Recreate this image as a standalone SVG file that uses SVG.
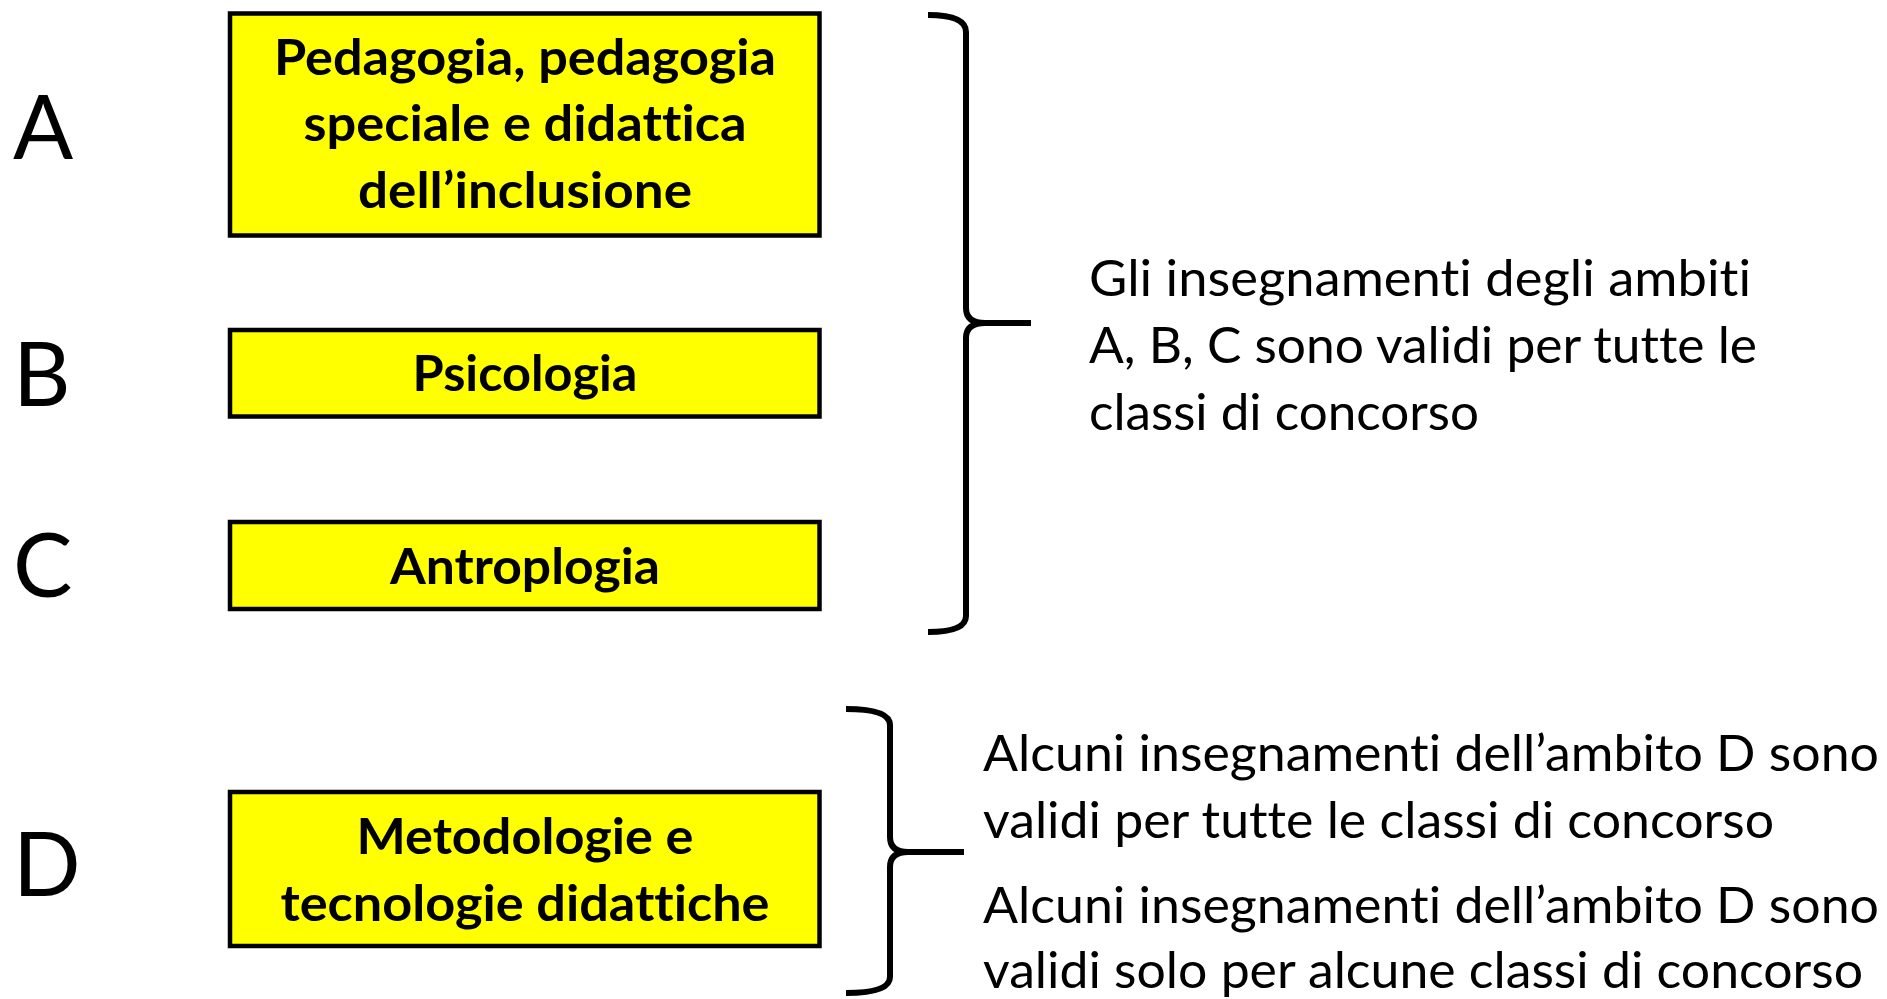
<svg xmlns="http://www.w3.org/2000/svg" width="1887" height="999" viewBox="0 0 1887 999">
<style>
text{font-variant-ligatures:none;font-feature-settings:"liga" 0,"clig" 0,"dlig" 0}
.lbl{font-family:Lato,"Liberation Sans",sans-serif;font-size:89px;fill:#000}
.box{fill:#FFFF00;stroke:#000;stroke-width:4.5}
.bt{font-family:Lato,"Liberation Sans",sans-serif;font-weight:700;font-size:49px;fill:#000;text-anchor:middle}
.rt{font-family:Lato,"Liberation Sans",sans-serif;font-size:50px;fill:#000}
.brace{fill:none;stroke:#000;stroke-width:6;stroke-linejoin:round}
</style>
<rect width="1887" height="999" fill="#fff"/>
<g id="labels">
<text class="lbl" x="13" y="159">A</text>
<text class="lbl" x="13" y="406">B</text>
<text class="lbl" x="13" y="597">C</text>
<text class="lbl" x="13" y="896">D</text>
</g>
<g id="nodeA">
<rect class="box" x="230" y="13.5" width="589.5" height="222"/>
<text class="bt" x="525" y="75" textLength="502" lengthAdjust="spacingAndGlyphs">Pedagogia, pedagogia</text>
<text class="bt" x="525" y="141" textLength="443" lengthAdjust="spacingAndGlyphs">speciale e didattica</text>
<text class="bt" x="525" y="208" textLength="334" lengthAdjust="spacingAndGlyphs">dell’inclusione</text>
</g>
<g id="nodeB">
<rect class="box" x="230" y="330" width="589.5" height="86.5"/>
<text class="bt" x="525" y="391" textLength="225" lengthAdjust="spacingAndGlyphs">Psicologia</text>
</g>
<g id="nodeC">
<rect class="box" x="230" y="522" width="589.5" height="87"/>
<text class="bt" x="525" y="584" textLength="270" lengthAdjust="spacingAndGlyphs">Antroplogia</text>
</g>
<g id="nodeD">
<rect class="box" x="230" y="792" width="589.5" height="154"/>
<text class="bt" x="525" y="854" textLength="337" lengthAdjust="spacingAndGlyphs">Metodologie e</text>
<text class="bt" x="525" y="921" textLength="489" lengthAdjust="spacingAndGlyphs">tecnologie didattiche</text>
</g>
<g id="connectors">
<path class="brace" d="M928,15 Q966,15 966,32 L966,308 Q966,323 985,323 Q966,323 966,338 L966,616 Q966,632 928,632"/>
<line x1="980" y1="323" x2="1031" y2="323" stroke="#000" stroke-width="6"/>
<path class="brace" d="M846,709 Q890,709 890,725 L890,837 Q890,852 908,852 Q890,852 890,867 L890,977 Q890,993 846,993"/>
<line x1="904" y1="852" x2="964" y2="852" stroke="#000" stroke-width="6"/>
</g>
<g id="noteABC">
<text class="rt" x="1089" y="296" textLength="662" lengthAdjust="spacingAndGlyphs">Gli insegnamenti degli ambiti</text>
<text class="rt" x="1089" y="363" textLength="668" lengthAdjust="spacingAndGlyphs">A, B, C sono validi per tutte le</text>
<text class="rt" x="1089" y="430" textLength="390" lengthAdjust="spacingAndGlyphs">classi di concorso</text>
</g>
<g id="noteD">
<text class="rt" x="983" y="771" textLength="896" lengthAdjust="spacingAndGlyphs">Alcuni insegnamenti dell’ambito D sono</text>
<text class="rt" x="983" y="838" textLength="791" lengthAdjust="spacingAndGlyphs">validi per tutte le classi di concorso</text>
<text class="rt" x="983" y="923" textLength="896" lengthAdjust="spacingAndGlyphs">Alcuni insegnamenti dell’ambito D sono</text>
<text class="rt" x="983" y="988" textLength="880" lengthAdjust="spacingAndGlyphs">validi solo per alcune classi di concorso</text>
</g>
</svg>
